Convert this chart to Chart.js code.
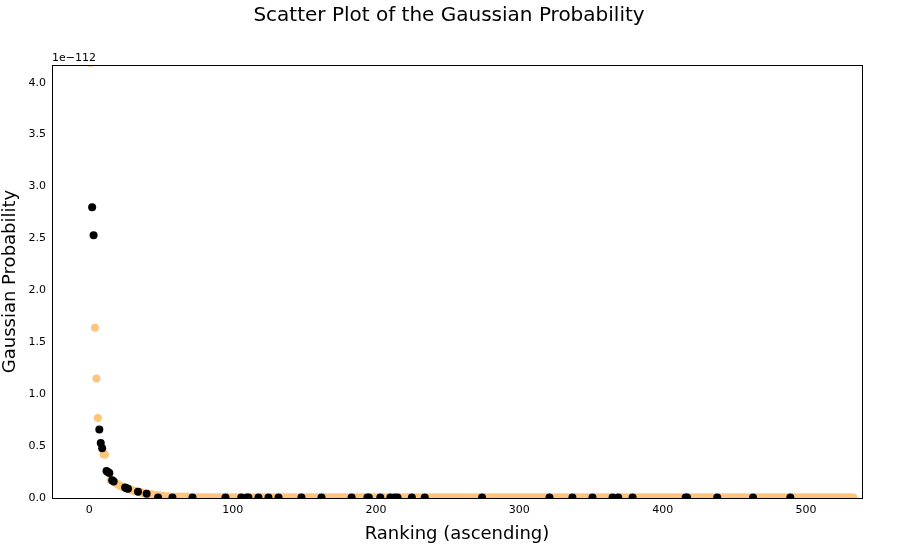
<!DOCTYPE html>
<html>
<head>
<meta charset="utf-8">
<script src="https://cdn.jsdelivr.net/npm/chart.js@4.4.0/dist/chart.umd.min.js"></script>
<style>
html, body { margin: 0; padding: 0; background: #fff; }
#wrap { width: 899px; height: 545px; }
</style>
</head>
<body>
<div id="wrap"><canvas id="myChart" width="899" height="545"></canvas></div>
<script>
// values in units of 1e-112
// head of the ranking (rank -> value)
const blackRanks = [2, 3, 7, 8, 9, 12, 13, 14, 16, 17, 25, 26, 27, 34, 40];
const blackValues = [2.80, 2.53, 0.66, 0.53, 0.48, 0.26, 0.25, 0.24, 0.17, 0.16, 0.10, 0.095, 0.09, 0.06, 0.04];
const orangeRanks = [1, 4, 5, 6, 10, 11, 15, 18, 19, 20, 21, 22, 23, 24, 28, 29, 30, 31, 32, 33, 35, 36, 37, 38, 39, 41, 42, 43, 44, 45, 46, 47, 49, 50, 52, 55];
const orangeValues = [4.19, 1.64, 1.15, 0.77, 0.42, 0.42, 0.17, 0.15, 0.14, 0.13, 0.12, 0.115, 0.11, 0.10, 0.085, 0.08, 0.075, 0.07, 0.068, 0.065, 0.058, 0.055, 0.05, 0.048, 0.045, 0.04, 0.038, 0.035, 0.033, 0.03, 0.028, 0.026, 0.024, 0.022, 0.02, 0.018];
// tail: black ranks lying on the floor (value ~0)
const blackTailRanks = [48, 58, 72, 95, 106, 110, 111, 118, 125, 132, 148, 162, 183, 194, 195, 203, 210, 213, 215, 225, 234, 274,
    321, 337, 351, 365, 369, 379, 416, 417, 438, 463, 489];
const lastRank = 533;
const xTicks = [0, 100, 200, 300, 400, 500];
const yTicks = [0, 0.5, 1.0, 1.5, 2.0, 2.5, 3.0, 3.5, 4.0];

const blackPts = blackRanks.map((r, i) => ({ x: r, y: blackValues[i] }))
    .concat(blackTailRanks.map(r => ({ x: r, y: 0.004 })));
const orangePts = orangeRanks.map((r, i) => ({ x: r, y: orangeValues[i] }));
const used = new Set(blackRanks.concat(orangeRanks, blackTailRanks));
for (let r = 56; r <= lastRank; r++) {
    if (!used.has(r)) orangePts.push({ x: r, y: r < 70 ? 0.012 : 0.004 });
}

const decorations = {
    id: 'decorations',
    afterDraw(chart) {
        const ctx = chart.ctx;
        ctx.save();
        ctx.fillStyle = '#000';
        ctx.font = '20px "DejaVu Sans"';
        ctx.textAlign = 'center';
        ctx.textBaseline = 'middle';
        ctx.fillText('Scatter Plot of the Gaussian Probability', 449, 16);
        ctx.font = '11px "DejaVu Sans"';
        ctx.textAlign = 'left';
        ctx.textBaseline = 'bottom';
        ctx.fillText('1e\u2212112', chart.chartArea.left, chart.chartArea.top - 1);
        // frame
        ctx.strokeStyle = '#000';
        ctx.lineWidth = 1;
        const a = chart.chartArea;
        ctx.strokeRect(a.left + 0.5, a.top + 0.5, a.right - a.left, a.bottom - a.top);
        ctx.restore();
    }
};

const tickFont = { family: 'DejaVu Sans', size: 11 };
new Chart(document.getElementById('myChart').getContext('2d'), {
    type: 'scatter',
    data: {
        datasets: [
            { label: 'black', data: blackPts, backgroundColor: '#000', borderWidth: 0, pointRadius: 4 },
            { label: 'orange', data: orangePts, backgroundColor: '#ffc47c', borderWidth: 0, pointRadius: 4 }
        ]
    },
    options: {
        responsive: false,
        animation: false,
        layout: { padding: { left: 0, right: 37, top: 65, bottom: 0 } },
        plugins: { legend: { display: false }, tooltip: { enabled: false } },
        scales: {
            x: {
                type: 'linear', min: -26, max: 539,
                afterBuildTicks: s => { s.ticks = xTicks.map(v => ({ value: v })); },
                afterFit: s => { s.height = 47; },
                grid: { display: false, drawTicks: true, tickLength: 4, color: '#000' },
                border: { color: '#000' },
                ticks: { color: '#000', font: tickFont, padding: 2, maxRotation: 0 },
                title: { display: true, text: 'Ranking (ascending)', color: '#000', font: { family: 'DejaVu Sans', size: 18 }, padding: { top: 0, bottom: 0 } }
            },
            y: {
                type: 'linear', min: 0, max: 4.17,
                afterBuildTicks: s => { s.ticks = yTicks.map(v => ({ value: v })); },
                afterFit: s => { s.width = 52; },
                grid: { display: false, drawTicks: true, tickLength: 4, color: '#000' },
                border: { color: '#000' },
                ticks: { color: '#000', font: tickFont, padding: 2, callback: v => v.toFixed(1) },
                title: { display: true, text: 'Gaussian Probability', color: '#000', font: { family: 'DejaVu Sans', size: 18 }, padding: { top: 0, bottom: 2 } }
            }
        }
    },
    plugins: [decorations]
});
</script>
</body>
</html>
